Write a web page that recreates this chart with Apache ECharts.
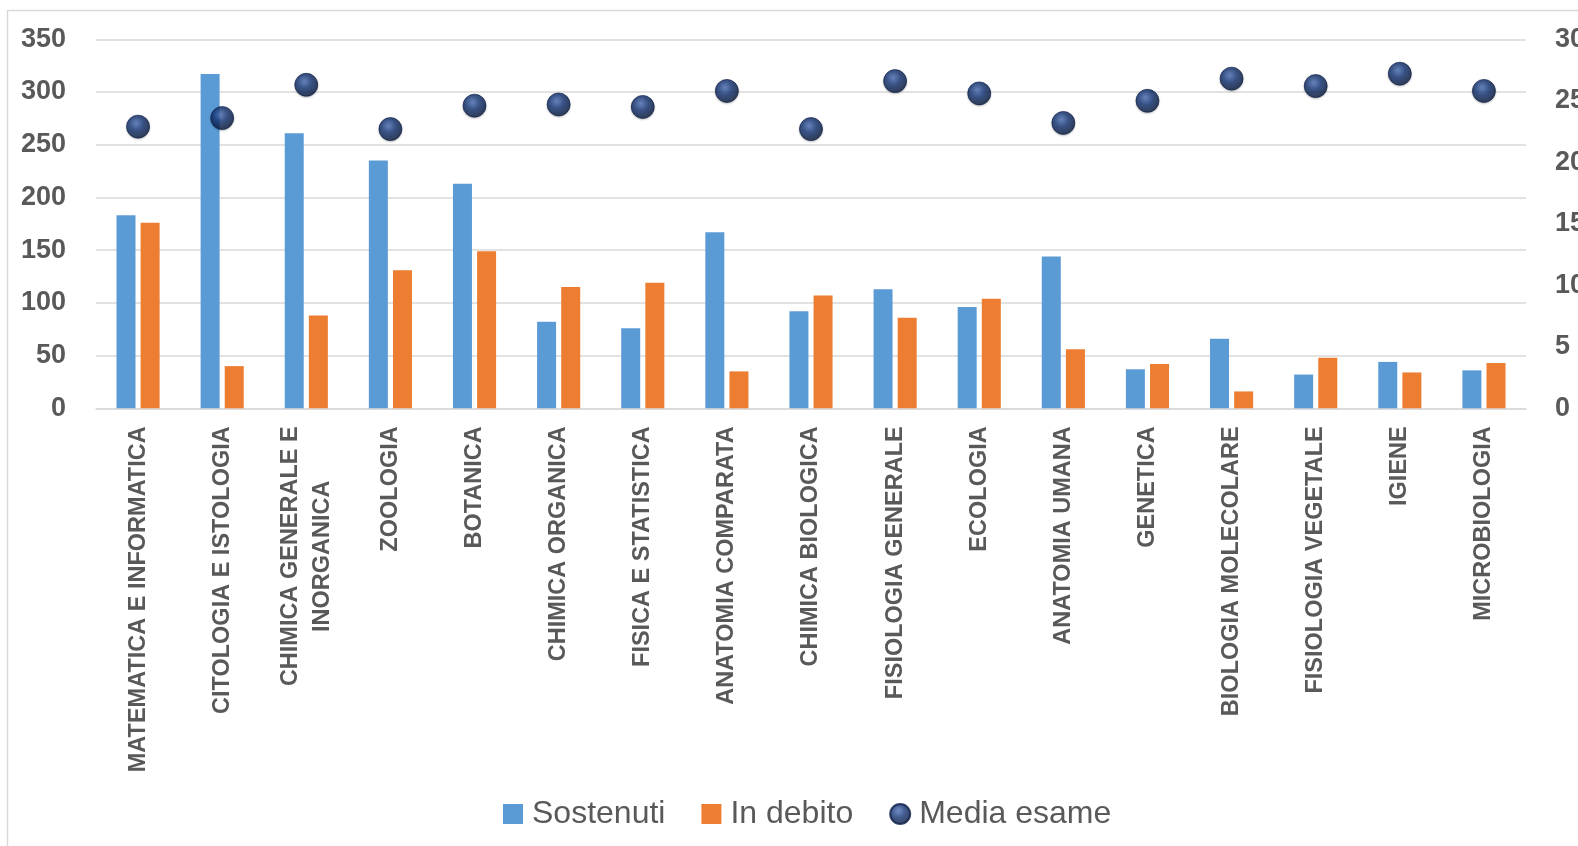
<!DOCTYPE html>
<html>
<head>
<meta charset="utf-8">
<script src="https://cdn.jsdelivr.net/npm/echarts@6/dist/echarts.min.js"></script>
<style>
  html, body { margin: 0; padding: 0; background: #ffffff; }
  #chart { width: 1578px; height: 846px; }
</style>
</head>
<body>
<div id="chart"></div>
<script>
// Courses (two-line label for the long chemistry course)
const categories = [
  'MATEMATICA E INFORMATICA',
  'CITOLOGIA E ISTOLOGIA',
  'CHIMICA GENERALE E\nINORGANICA',
  'ZOOLOGIA',
  'BOTANICA',
  'CHIMICA ORGANICA',
  'FISICA E STATISTICA',
  'ANATOMIA COMPARATA',
  'CHIMICA BIOLOGICA',
  'FISIOLOGIA GENERALE',
  'ECOLOGIA',
  'ANATOMIA UMANA',
  'GENETICA',
  'BIOLOGIA MOLECOLARE',
  'FISIOLOGIA VEGETALE',
  'IGIENE',
  'MICROBIOLOGIA'
];

// Exams passed
const sostenuti = [183, 317, 261, 235, 213, 82, 76, 167, 92, 113, 96, 144, 37, 66, 32, 44, 36];
// Exams still owed
const inDebito = [176, 40, 88, 131, 149, 115, 119, 35, 107, 86, 104, 56, 42, 16, 48, 34, 43];
// Average exam grade (right axis)
const mediaEsame = [22.9, 23.6, 26.3, 22.7, 24.6, 24.7, 24.5, 25.8, 22.7, 26.6, 25.6, 23.2, 25.0, 26.8, 26.2, 27.2, 25.8];

const leftTicks = { min: 0, max: 350, interval: 50 };
const rightTicks = { min: 0, max: 30, interval: 5 };

const GRAY_TEXT = '#595959';
const GRID_LINE = '#d9d9d9';
const FONT = '"Liberation Sans", Arial, sans-serif';

const sphere = {
  type: 'radial', x: 0.42, y: 0.36, r: 0.68,
  colorStops: [
    { offset: 0, color: '#4a6fb5' },
    { offset: 0.45, color: '#123272' },
    { offset: 1, color: '#05132f' }
  ]
};

const chart = echarts.init(document.getElementById('chart'), null, { renderer: 'canvas' });

chart.setOption({
  animation: false,
  backgroundColor: '#ffffff',
  graphic: [{
    type: 'rect',
    silent: true,
    shape: { x: 7.5, y: 10.5, width: 1700, height: 1000 },
    style: { fill: 'none', stroke: GRID_LINE, lineWidth: 1.5 }
  }],
  grid: {
    left: 96, right: 52, top: 39.3, bottom: 437.7,
    containLabel: false,
    outerBoundsMode: 'none'
  },
  legend: {
    data: [
      { name: 'Sostenuti', icon: 'rect' },
      { name: 'In debito', icon: 'rect' },
      { name: 'Media esame', icon: 'circle' }
    ],
    left: 498,
    top: 793,
    itemWidth: 20,
    itemHeight: 20,
    itemGap: 36,
    textStyle: { fontFamily: FONT, fontSize: 32, color: GRAY_TEXT, padding: [0, 0, 0, 4] }
  },
  xAxis: {
    type: 'category',
    data: categories,
    axisTick: { show: false },
    axisLine: { lineStyle: { color: GRID_LINE, width: 1.5 } },
    axisLabel: {
      interval: 0,
      rotate: 90,
      margin: 18,
      formatter: v => v.split('\n').map(s => '{c|' + s + '}').join('\n'),
      rich: {
        c: {
          align: 'center',
          fontFamily: FONT,
          fontWeight: 'bold',
          fontSize: 23.5,
          lineHeight: 32,
          color: GRAY_TEXT
        }
      }
    }
  },
  yAxis: [{
    type: 'value',
    min: leftTicks.min, max: leftTicks.max, interval: leftTicks.interval,
    axisLine: { show: false },
    axisTick: { show: false },
    splitLine: { lineStyle: { color: GRID_LINE, width: 1.5 } },
    axisLabel: {
      margin: 30,
      fontFamily: FONT, fontWeight: 'bold', fontSize: 27, color: GRAY_TEXT
    }
  }, {
    type: 'value',
    min: rightTicks.min, max: rightTicks.max, interval: rightTicks.interval,
    axisLine: { show: false },
    axisTick: { show: false },
    splitLine: { show: false },
    axisLabel: {
      margin: 29,
      fontFamily: FONT, fontWeight: 'bold', fontSize: 27, color: GRAY_TEXT
    }
  }],
  series: [{
    name: 'Sostenuti',
    type: 'bar',
    data: sostenuti,
    barWidth: 19,
    barGap: '27%',
    itemStyle: { color: '#5b9bd5' }
  }, {
    name: 'In debito',
    type: 'bar',
    data: inDebito,
    barWidth: 19,
    itemStyle: { color: '#ed7d31' }
  }, {
    name: 'Media esame',
    type: 'scatter',
    yAxisIndex: 1,
    data: mediaEsame,
    symbol: 'circle',
    symbolSize: 23,
    itemStyle: {
      color: sphere,
      borderColor: '#0a1c47',
      borderWidth: 0.8,
      shadowColor: 'rgba(0,0,0,0.25)',
      shadowBlur: 2,
      shadowOffsetY: 1
    },
    z: 5
  }]
});
</script>
</body>
</html>
